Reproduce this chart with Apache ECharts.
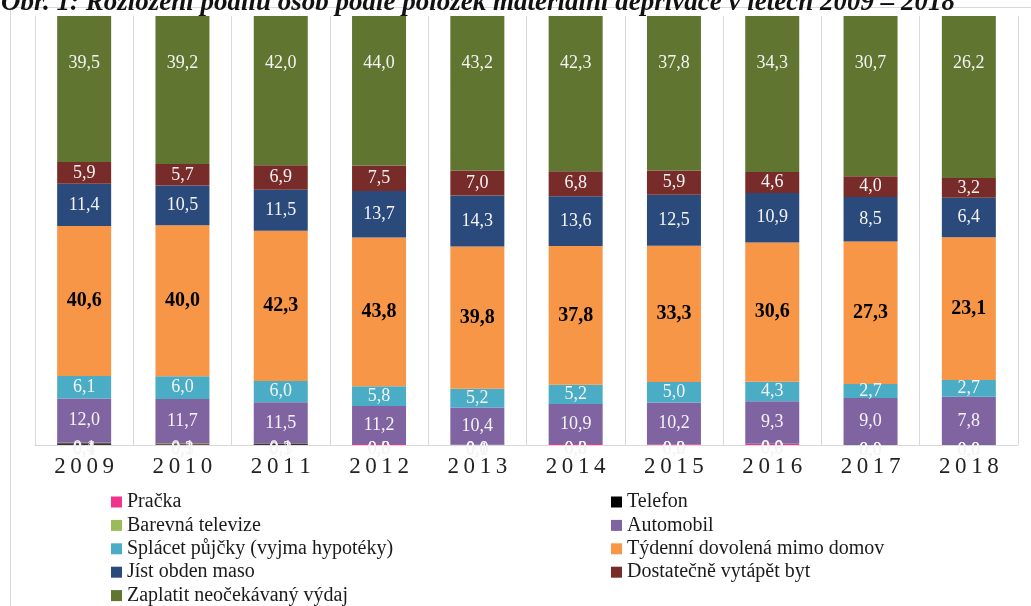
<!DOCTYPE html>
<html>
<head>
<meta charset="utf-8">
<script src="https://cdn.jsdelivr.net/npm/echarts@6/dist/echarts.min.js"></script>
<style>
  html, body { margin: 0; padding: 0; background: #fff; }
  #chart { width: 1031px; height: 606px; }
</style>
</head>
<body>
<div id="chart"></div>
<script>
// roky (kategorie osy x)
const years = ['2009', '2010', '2011', '2012', '2013', '2014', '2015', '2016', '2017', '2018'];

// hodnoty v % osob (odspodu nahoru)
const pracka     = [0.1, 0.1, 0.1, 0.3, 0.1, 0.3, 0.2, 0.3, 0.0, 0.0];
const telefon    = [0.4, 0.3, 0.3, 0.0, 0.0, 0.0, 0.0, 0.0, 0.0, 0.0];
const televize   = [0.1, 0.1, 0.1, 0.0, 0.0, 0.0, 0.0, 0.0, 0.0, 0.0];
const automobil  = [12.0, 11.7, 11.5, 11.2, 10.4, 10.9, 10.2, 9.3, 9.0, 7.8];
const pujcky     = [6.1, 6.0, 6.0, 5.8, 5.2, 5.2, 5.0, 4.3, 2.7, 2.7];
const dovolena   = [40.6, 40.0, 42.3, 43.8, 39.8, 37.8, 33.3, 30.6, 27.3, 23.1];
const maso       = [11.4, 10.5, 11.5, 13.7, 14.3, 13.6, 12.5, 10.9, 8.5, 6.4];
const vytapet    = [5.9, 5.7, 6.9, 7.5, 7.0, 6.8, 5.9, 4.6, 4.0, 3.2];
const vydaj      = [39.5, 39.2, 42.0, 44.0, 43.2, 42.3, 37.8, 34.3, 30.7, 26.2];

const SERIF = '"Liberation Serif", "DejaVu Serif", serif';

// pořadí = pořadí ve stohu i v legendě
const rows = [
  { name: 'Pračka',                           data: pracka,    color: '#f0338c' },
  { name: 'Telefon',                          data: telefon,   color: '#000000' },
  { name: 'Barevná televize',                 data: televize,  color: '#9bbb59' },
  { name: 'Automobil',                        data: automobil, color: '#8064a2' },
  { name: 'Splácet půjčky (vyjma hypotéky)',  data: pujcky,    color: '#4bacc6' },
  { name: 'Týdenní dovolená mimo domov',      data: dovolena,  color: '#f79646' },
  { name: 'Jíst obden maso',                  data: maso,      color: '#2a4a7b' },
  { name: 'Dostatečně vytápět byt',           data: vytapet,   color: '#772c2a' },
  { name: 'Zaplatit neočekávaný výdaj',       data: vydaj,     color: '#5f7530' },
];

// 100% skládaný graf: součet za rok
const totals = years.map((_, i) => rows.reduce((s, r) => s + r.data[i], 0));

const fmt = p => p.data.raw.toFixed(1).replace('.', ',');

const whiteLabel = {
  show: true,
  color: '#f4f4f4',
  fontFamily: SERIF,
  fontSize: 18,
  formatter: fmt,
};

const series = rows.map((r) => {
  let label = whiteLabel;
  if (r.name === 'Týdenní dovolená mimo domov') {
    label = { ...whiteLabel, color: '#000', fontWeight: 'bold', fontSize: 20 };
  } else if (r.name === 'Zaplatit neočekávaný výdaj') {
    label = { ...whiteLabel, position: ['50%', 47], align: 'center', verticalAlign: 'middle' };
  } else if (r.data.every(v => v < 1)) {
    // drobné položky u osy – spodní půlka popisku mizí v bílém pozadí
    label = { ...whiteLabel, position: 'inside', offset: [0, 5] };
  }
  return {
    name: r.name,
    type: 'bar',
    stack: 'all',
    barWidth: 54,
    itemStyle: { color: r.color },
    label,
    emphasis: { disabled: true },
    data: r.data.map((v, i) => ({ value: v / totals[i] * 100, raw: v })),
  };
});

const legendBase = {
  orient: 'vertical',
  top: 492,
  height: 130,
  padding: 0,
  itemWidth: 11,
  itemHeight: 11,
  itemGap: 3.4,
  icon: 'rect',
  selectedMode: false,
  textStyle: { fontFamily: SERIF, fontSize: 20, color: '#1a1a1a', lineHeight: 20 },
};

const chart = echarts.init(document.getElementById('chart'), null, { renderer: 'canvas' });
chart.setOption({
  animation: false,
  backgroundColor: '#fff',
  title: {
    text: 'Obr. 1: Rozložení podílu osob podle položek materiální deprivace v letech 2009 – 2018',
    left: -4,
    top: -15,
    textStyle: { fontFamily: SERIF, fontStyle: 'italic', fontWeight: 'bold', fontSize: 27, color: '#111' },
  },
  graphic: [{
    type: 'rect',
    silent: true,
    z: -1,
    shape: { x: 10.5, y: 7.5, width: 1100, height: 700 },
    style: { fill: null, stroke: '#d9d9d9', lineWidth: 1 },
  }],
  legend: [
    { ...legendBase, left: 111, data: [rows[0].name, rows[2].name, rows[4].name, rows[6].name, rows[8].name] },
    { ...legendBase, left: 611, data: [rows[1].name, rows[3].name, rows[5].name, rows[7].name] },
  ],
  grid: { left: 35, right: 13, top: 16, bottom: 161 },
  xAxis: {
    type: 'category',
    data: years,
    axisLine: { lineStyle: { color: '#d9d9d9' } },
    axisTick: { show: false },
    splitLine: { show: true, interval: 0, lineStyle: { color: '#d9d9d9' } },
    axisLabel: {
      margin: 10,
      fontFamily: SERIF,
      fontSize: 23,
      color: '#222',
      formatter: v => v.split('').join('\u2009'),
    },
  },
  yAxis: { type: 'value', min: 0, max: 100, show: false },
  series,
});
</script>
</body>
</html>
